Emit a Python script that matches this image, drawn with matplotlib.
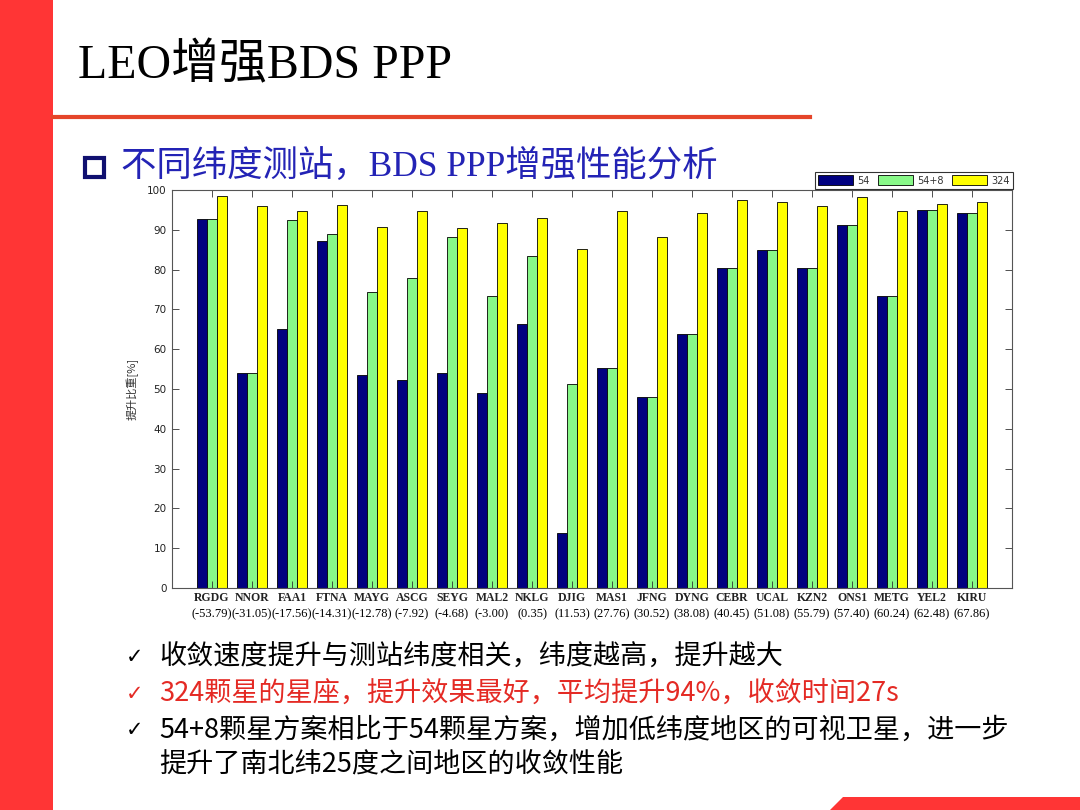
import matplotlib
matplotlib.use("Agg")
import matplotlib.pyplot as plt
from matplotlib.patches import Rectangle, Polygon
import numpy as np

# stations and latitudes
stations = ['RGDG', 'NNOR', 'FAA1', 'FTNA', 'MAYG', 'ASCG', 'SEYG', 'MAL2', 'NKLG', 'DJIG', 'MAS1',
            'JFNG', 'DYNG', 'CEBR', 'UCAL', 'KZN2', 'ONS1', 'METG', 'YEL2', 'KIRU']
lats = ['-53.79', '-31.05', '-17.56', '-14.31', '-12.78', '-7.92', '-4.68', '-3.00', '0.35', '11.53', '27.76',
        '30.52', '38.08', '40.45', '51.08', '55.79', '57.40', '60.24', '62.48', '67.86']

# improvement ratio [%]
v54 = [92.8, 54.1, 65.0, 87.3, 53.5, 52.3, 54.1, 49.0, 66.3, 13.8, 55.2,
       48.1, 63.8, 80.4, 84.8, 80.5, 91.3, 73.3, 95.1, 94.3]
v54_8 = [92.8, 54.1, 92.5, 89.0, 74.3, 77.8, 88.3, 73.4, 83.4, 51.2, 55.2,
         48.1, 63.8, 80.4, 84.8, 80.5, 91.3, 73.3, 95.1, 94.3]
v324 = [98.5, 96.1, 94.6, 96.2, 90.8, 94.6, 90.5, 91.8, 93.0, 85.2, 94.7,
        88.3, 94.3, 97.5, 97.1, 96.0, 98.2, 94.6, 96.4, 97.1]
series_names = ['54', '54+8', '324']
series_colors = ['#000080', '#88f888', '#ffff00']

W, H = 1080, 810
fig = plt.figure(figsize=(W / 100, H / 100), dpi=100)
fig.patch.set_facecolor('white')


def fx(x):
    return x / W


def fy(y):
    return 1 - y / H


cjk = ['Noto Sans CJK SC', 'DejaVu Sans']
serif_cjk = ['Liberation Serif', 'Noto Sans CJK SC']

# slide decorations
fig.patches.append(Rectangle((0, 0), fx(53), 1, transform=fig.transFigure,
                             facecolor='#ff3535', edgecolor='none'))
fig.lines.append(plt.Line2D([fx(53), fx(810)], [fy(117), fy(117)], transform=fig.transFigure,
                            color='#e5452a', linewidth=3))
fig.patches.append(Polygon([(fx(830), fy(810)), (fx(843), fy(797)), (1, fy(797)), (1, 0)],
                           closed=True, transform=fig.transFigure,
                           facecolor='#ff3535', edgecolor='none'))

fig.text(fx(78), fy(78), 'LEO增强BDS PPP', fontsize=34.5, family=serif_cjk,
         color='black', va='baseline', ha='left')

fig.patches.append(Rectangle((fx(85), fy(177)), fx(19), 19 / H, transform=fig.transFigure,
                             facecolor='none', edgecolor='#101070', linewidth=3))
fig.text(fx(121), fy(176), '不同纬度测站，BDS PPP增强性能分析', fontsize=25.5, family=serif_cjk,
         color='#2323b5', va='baseline', ha='left')

# bullets
bullets = [
    ('收敛速度提升与测站纬度相关，纬度越高，提升越大', 'black', 657),
    ('324颗星的星座，提升效果最好，平均提升94%，收敛时间27s', '#e42a24', 694),
    ('54+8颗星方案相比于54颗星方案，增加低纬度地区的可视卫星，进一步', 'black', 730),
]
for txt, col, yy in bullets:
    fig.text(fx(126), fy(yy), '✓', fontsize=15, family=['DejaVu Sans'], color=col, va='center')
    fig.text(fx(159), fy(yy), txt, fontsize=19.5, family=cjk, color=col, va='center')
fig.text(fx(159), fy(765), '提升了南北纬25度之间地区的收敛性能', fontsize=19.5, family=cjk,
         color='black', va='center')

# chart
ax = fig.add_axes([fx(172), fy(588), fx(1012 - 172), (588 - 190) / H])
x = np.arange(1, len(stations) + 1)
w = 0.245
for i, (vals, name, col) in enumerate(zip([v54, v54_8, v324], series_names, series_colors)):
    ax.bar(x + (i - 1) * w, vals, width=w, color=col, edgecolor='black', linewidth=0.6, label=name)

ax.set_xlim(0, len(stations) + 1)
ax.set_ylim(0, 100)
ax.set_yticks(np.arange(0, 101, 10))
ax.set_xticks(x)
ax.set_xticklabels(stations, family='Liberation Serif', fontweight='bold', fontsize=8.5)
for xi, lat in zip(x, lats):
    ax.text(xi, -0.05, '(' + lat + ')', transform=ax.get_xaxis_transform(), ha='center', va='top',
            family='Liberation Serif', fontsize=9)
ax.tick_params(axis='both', direction='in', top=True, right=True, length=5, width=0.6,
               colors='#333333', labelcolor='#222222')
ax.tick_params(axis='x', pad=3)
ax.tick_params(axis='y', labelsize=7.5, pad=4)
for s in ax.spines.values():
    s.set_color('#555555')
    s.set_linewidth(0.8)
ax.set_ylabel('提升比重[%]', family=cjk, fontsize=8, color='#333333', labelpad=6)

leg = fig.legend(loc='lower right', bbox_to_anchor=(fx(1013), fy(189)), bbox_transform=fig.transFigure,
                 ncol=3, fontsize=7, frameon=True, fancybox=False, handlelength=3.6, handleheight=1.2,
                 columnspacing=0.9, handletextpad=0.4, borderpad=0.35, borderaxespad=0)
leg.get_frame().set_edgecolor('black')
leg.get_frame().set_linewidth(0.8)
for t in leg.get_texts():
    t.set_color('#333333')

fig.savefig('out.png', dpi=100)
